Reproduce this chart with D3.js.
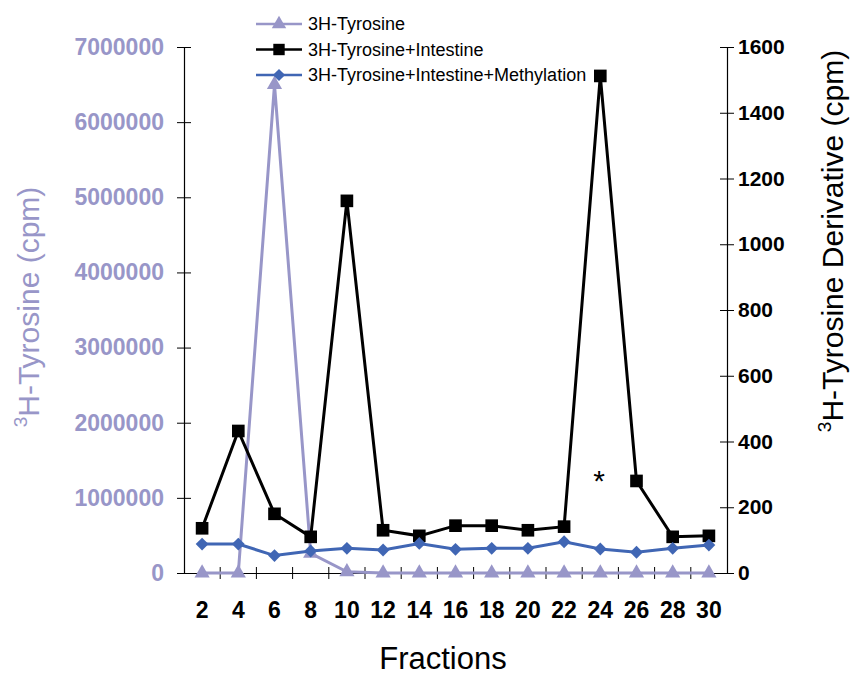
<!DOCTYPE html>
<html>
<head>
<meta charset="utf-8">
<script src="https://cdn.jsdelivr.net/npm/d3@7"></script>
<style>
  body { margin: 0; background: #fff; }
  svg { font-family: Arial, "Liberation Sans", sans-serif; }
</style>
</head>
<body>
<div class="chart"></div>
<script>
const fractions = [2, 4, 6, 8, 10, 12, 14, 16, 18, 20, 22, 24, 26, 28, 30];
const tyrosine = [0, 0, 6500000, 262000, 15000, 0, 0, 0, 0, 0, 0, 0, 0, 0, 0];
const tyrIntestine = [136, 432, 180, 110, 1132, 130, 113, 144, 144, 130, 141, 1512, 280, 110, 113];
const tyrMethyl = [88, 88, 53, 67, 75, 70, 90, 72, 75, 75, 95, 73, 63, 75, 85];
const leftTicks = [0, 1000000, 2000000, 3000000, 4000000, 5000000, 6000000, 7000000];
const rightTicks = [0, 200, 400, 600, 800, 1000, 1200, 1400, 1600];
const seriesNames = ["3H-Tyrosine", "3H-Tyrosine+Intestine", "3H-Tyrosine+Intestine+Methylation"];

const lavender = '#9896c8';
const blue = '#4066b4';

let width = 851, height = 677;
let plotL = 184, plotR = 727, plotT = 47, plotB = 573;

let svg = d3.select('.chart').append('svg')
  .attr('width', width)
  .attr('height', height);

let x = d3.scaleBand().domain(fractions).range([plotL, plotR]);
let yL = d3.scaleLinear().domain([0, 7000000]).range([plotB, plotT]);
let yR = d3.scaleLinear().domain([0, 1600]).range([plotB, plotT]);

// axes
let xAxis = svg.append('g').attr('transform', `translate(0,${plotB})`)
  .call(d3.axisBottom(x).tickSize(0).tickPadding(29));
xAxis.select('.domain').attr('stroke', '#000').attr('stroke-width', 1.2);
xAxis.selectAll('text').attr('font-size', 23).attr('font-weight', 'bold').attr('fill', '#000')
  .attr('font-family', 'Arial, "Liberation Sans", sans-serif');
// cross ticks between categories
xAxis.selectAll('.sep').data(fractions.slice(1)).enter().append('line')
  .attr('x1', d => x(d)).attr('x2', d => x(d))
  .attr('y1', -6).attr('y2', 6).attr('stroke', '#000');

let lAxis = svg.append('g').attr('transform', `translate(${plotL},0)`)
  .call(d3.axisLeft(yL).tickValues(leftTicks).tickFormat(d3.format('d')).tickSize(7).tickPadding(13).tickSizeOuter(0));
lAxis.select('.domain').attr('stroke', '#000').attr('stroke-width', 1.2);
lAxis.selectAll('.tick line').attr('x2', 7).attr('x1', -7).attr('stroke', '#000');
lAxis.selectAll('text').attr('font-size', 23).attr('font-weight', 'bold').attr('fill', lavender)
  .attr('font-family', 'Arial, "Liberation Sans", sans-serif');

let rAxis = svg.append('g').attr('transform', `translate(${plotR},0)`)
  .call(d3.axisRight(yR).tickValues(rightTicks).tickFormat(d3.format('d')).tickSize(7).tickPadding(4).tickSizeOuter(0));
rAxis.select('.domain').attr('stroke', '#000').attr('stroke-width', 1.2);
rAxis.selectAll('.tick line').attr('x1', -7).attr('x2', 7).attr('stroke', '#000');
rAxis.selectAll('text').attr('font-size', 21).attr('font-weight', 'bold').attr('fill', '#000')
  .attr('font-family', 'Arial, "Liberation Sans", sans-serif');

// titles
svg.append('text').attr('x', 443).attr('y', 669)
  .attr('text-anchor', 'middle').attr('font-size', 31).text('Fractions');

let lt = svg.append('text').attr('transform', 'translate(39,307) rotate(-90)')
  .attr('text-anchor', 'middle').attr('font-size', 30).attr('fill', lavender);
lt.append('tspan').attr('font-size', 19).attr('dy', -12).text('3');
lt.append('tspan').attr('dy', 12).text('H-Tyrosine (cpm)');

let rt = svg.append('text').attr('transform', 'translate(843,241) rotate(-90)')
  .attr('text-anchor', 'middle').attr('font-size', 30).attr('fill', '#000');
rt.append('tspan').attr('font-size', 19).attr('dy', -12).text('3');
rt.append('tspan').attr('dy', 12).text('H-Tyrosine Derivative (cpm)');

let cx = (d, i) => x(fractions[i]) + x.bandwidth() / 2;

function drawSeries(values, scale, color, sym, size, lw) {
  let line = d3.line().x((d, i) => cx(d, i)).y(d => scale(d));
  let g = svg.append('g');
  g.append('path').datum(values).attr('d', line)
    .attr('fill', 'none').attr('stroke', color).attr('stroke-width', lw);
  g.selectAll('path.m').data(values).enter().append('path')
    .attr('class', 'm')
    .attr('d', d3.symbol().type(sym).size(size))
    .attr('transform', (d, i) => `translate(${cx(d, i)},${scale(d)})`)
    .attr('fill', color);
}

drawSeries(tyrosine, yL, lavender, d3.symbolTriangle, 100, 3);

// legend
const legendItems = [
  {name: seriesNames[0], color: lavender, sym: d3.symbolTriangle, size: 90},
  {name: seriesNames[1], color: '#000', sym: d3.symbolSquare, size: 130},
  {name: seriesNames[2], color: blue, sym: d3.symbolDiamond2, size: 95}
];
let lg = svg.append('g');
legendItems.forEach((it, i) => {
  let yy = 24 + i * 25.5;
  lg.append('line').attr('x1', 256).attr('x2', 302).attr('y1', yy).attr('y2', yy)
    .attr('stroke', it.color).attr('stroke-width', 2.5);
  lg.append('path').attr('d', d3.symbol().type(it.sym).size(it.size))
    .attr('transform', `translate(279,${yy})`).attr('fill', it.color);
  lg.append('text').attr('x', 308).attr('y', yy + 6).attr('font-size', 18).text(it.name);
});

drawSeries(tyrIntestine, yR, '#000', d3.symbolSquare, 160, 3);
drawSeries(tyrMethyl, yR, blue, d3.symbolDiamond2, 105, 3);

svg.append('text').attr('x', 599).attr('y', 491).attr('text-anchor', 'middle')
  .attr('font-size', 30).text('*');
</script>
</body>
</html>
